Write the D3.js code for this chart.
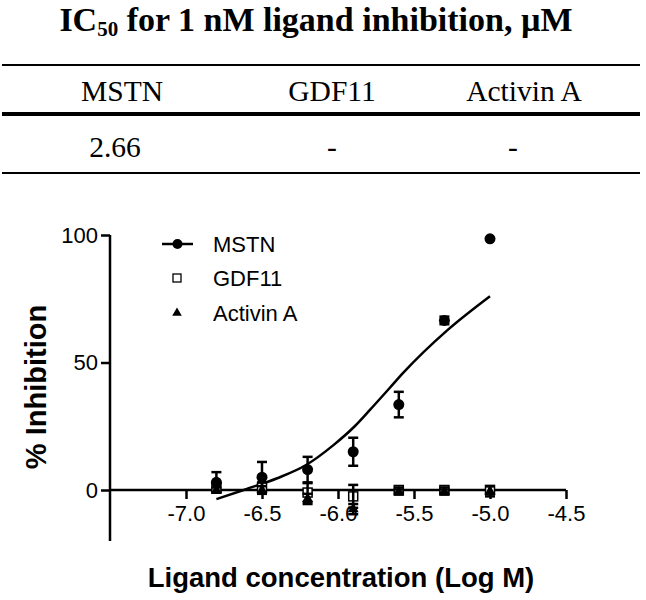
<!DOCTYPE html>
<html>
<head>
<meta charset="utf-8">
<script src="https://cdn.jsdelivr.net/npm/d3@7"></script>
<style>
  html, body { margin: 0; padding: 0; background: #fff; }
  svg { display: block; }
</style>
</head>
<body>
<svg id="chart" width="646" height="600"></svg>
<script>
// ---- data ----
const tableHeaders = ["MSTN", "GDF11", "Activin A"];
const tableValues = ["2.66", "-", "-"];

const seriesNames = ["MSTN", "GDF11", "Activin A"];
const logConc = [-6.8, -6.5, -6.2, -5.9, -5.6, -5.3, -5.0];
const mstnMean = [3, 5, 8, 15, 33.5, 66.5, 98.5];
const mstnErr = [4, 6, 5, 5.5, 5, 1.5, 0];
const gdf11Mean = [1, 1, -1, -2.5, 0, 0, 0];
const gdf11Err = [2, 2, 3.7, 4.5, 1, 1, 1.5];
const activinMean = [0, 0, -3.5, -7.5, -0.8, -0.8, -0.5];
const activinErr = [1, 1.5, 2, 2, 1, 1, 2];

// fitted MSTN curve
const fitX = [-6.8, -6.6, -6.4, -6.21, -6.03, -5.89, -5.79, -5.66, -5.57, -5.28, -5.0];
const fitY = [-3.6, 0.4, 4.6, 9.8, 17.6, 25, 31.4, 40, 46, 62.7, 76];

const xTicks = [-7.0, -6.5, -6.0, -5.5, -5.0, -4.5];
const yTicks = [0, 50, 100];

// ---- drawing ----
const svg = d3.select("#chart");
const serif = "'Liberation Serif', 'Times New Roman', serif";
const sans = "'Liberation Sans', Arial, Helvetica, sans-serif";

// Table
const title = svg.append("text")
  .attr("x", 316).attr("y", 31)
  .attr("text-anchor", "middle")
  .attr("font-family", serif).attr("font-weight", "bold").attr("font-size", 34);
title.append("tspan").text("IC");
title.append("tspan").attr("font-size", 21).attr("dy", 5).text("50");
title.append("tspan").attr("dy", -5).text(" for 1 nM ligand inhibition, µM");

const colPos = { "MSTN": 122, "GDF11": 332, "Activin A": 524 };

svg.append("line").attr("x1", 2).attr("x2", 640).attr("y1", 65).attr("y2", 65)
  .attr("stroke", "#000").attr("stroke-width", 2);
svg.append("line").attr("x1", 2).attr("x2", 640).attr("y1", 114).attr("y2", 114)
  .attr("stroke", "#000").attr("stroke-width", 4);
svg.append("line").attr("x1", 2).attr("x2", 640).attr("y1", 173).attr("y2", 173)
  .attr("stroke", "#000").attr("stroke-width", 2);

svg.selectAll("text.hdr").data(tableHeaders).enter().append("text")
  .attr("class", "hdr")
  .attr("x", d => colPos[d]).attr("y", 101)
  .attr("text-anchor", "middle")
  .attr("font-family", serif).attr("font-size", 29.5)
  .text(d => d);
svg.selectAll("text.val").data(tableValues).enter().append("text")
  .attr("class", "val")
  .attr("x", (d, i) => colPos[tableHeaders[i]] - (i === 0 ? 7 : 0) - (i === 2 ? 11 : 0)).attr("y", 157)
  .attr("text-anchor", "middle")
  .attr("font-family", serif).attr("font-size", 29.5)
  .text(d => d);

// Chart
const x = d3.scaleLinear().domain([-7.5, -4.5]).range([110, 566]);
const y = d3.scaleLinear().domain([-20, 100]).range([541, 235]);
const sw = 2.5;

// y axis
const yAxis = d3.axisLeft(y).tickValues(yTicks).tickSize(9).tickPadding(3).tickFormat(d3.format("d"));
const gy = svg.append("g").attr("transform", `translate(${x(-7.5)},0)`).call(yAxis);
gy.select(".domain").attr("d", `M0,${y(100)}V${y(-20)}`).attr("stroke-width", sw);
gy.selectAll(".tick line").attr("stroke-width", sw);
gy.selectAll(".tick text").attr("font-family", sans).attr("font-size", 22).attr("fill", "#000");

// x axis at y=0
const xAxis = d3.axisBottom(x).tickValues(xTicks).tickSize(9).tickPadding(6).tickFormat(d3.format(".1f"));
const gx = svg.append("g").attr("transform", `translate(0,${y(0)})`).call(xAxis);
gx.select(".domain").attr("d", `M${x(-7.5)},0H${x(-4.5)}`).attr("stroke-width", sw);
gx.selectAll(".tick line").attr("stroke-width", sw);
gx.selectAll(".tick text").attr("font-family", sans).attr("font-size", 22).attr("fill", "#000")
  .text(d => d3.format(".1f")(d).replace("−", "-"));

// axis titles
svg.append("text").attr("x", 341).attr("y", 587).attr("text-anchor", "middle")
  .attr("font-family", sans).attr("font-weight", "bold").attr("font-size", 27.5)
  .text("Ligand concentration (Log M)");
svg.append("text").attr("transform", `translate(46,387) rotate(-90)`).attr("text-anchor", "middle")
  .attr("font-family", sans).attr("font-weight", "bold").attr("font-size", 29)
  .text("% Inhibition");

// fitted curve
const fitData = fitX.map((v, i) => [v, fitY[i]]);
svg.append("path").datum(fitData)
  .attr("d", d3.line().x(d => x(d[0])).y(d => y(d[1])).curve(d3.curveMonotoneX))
  .attr("fill", "none").attr("stroke", "#000").attr("stroke-width", sw);

// error bars
function errorBars(means, errs) {
  const g = svg.append("g").attr("stroke", "#000").attr("stroke-width", sw);
  logConc.forEach((c, i) => {
    if (!errs[i]) return;
    const cx = x(c), y1 = y(means[i] + errs[i]), y2 = y(means[i] - errs[i]);
    g.append("line").attr("x1", cx).attr("x2", cx).attr("y1", y1).attr("y2", y2);
    g.append("line").attr("x1", cx - 5).attr("x2", cx + 5).attr("y1", y1).attr("y2", y1);
    g.append("line").attr("x1", cx - 5).attr("x2", cx + 5).attr("y1", y2).attr("y2", y2);
  });
}

const tri = d3.symbol().type(d3.symbolTriangle).size(52);

// GDF11 open squares
svg.append("g").selectAll("rect").data(logConc).enter().append("rect")
  .attr("x", d => x(d) - 4.5).attr("width", 9).attr("height", 9)
  .attr("y", (d, i) => y(gdf11Mean[i]) - 4.5)
  .attr("fill", "#fff").attr("stroke", "#000").attr("stroke-width", 1.5);

// Activin A triangles
svg.append("g").selectAll("path").data(logConc).enter().append("path")
  .attr("d", tri)
  .attr("transform", (d, i) => `translate(${x(d)},${y(activinMean[i])})`)
  .attr("fill", "#000");

errorBars(activinMean, activinErr);
errorBars(gdf11Mean, gdf11Err);
errorBars(mstnMean, mstnErr);

// MSTN filled circles
svg.append("g").selectAll("circle").data(logConc).enter().append("circle")
  .attr("cx", d => x(d)).attr("cy", (d, i) => y(mstnMean[i])).attr("r", 5.5)
  .attr("fill", "#000");

// legend
const lg = svg.append("g");
const legY = [244, 278, 313];
lg.append("line").attr("x1", 162).attr("x2", 193).attr("y1", legY[0]).attr("y2", legY[0])
  .attr("stroke", "#000").attr("stroke-width", sw);
lg.append("circle").attr("cx", 177.5).attr("cy", legY[0]).attr("r", 5).attr("fill", "#000");
lg.append("rect").attr("x", 173).attr("y", legY[1] - 4).attr("width", 8).attr("height", 8)
  .attr("fill", "#fff").attr("stroke", "#000").attr("stroke-width", 1.3);
lg.append("path").attr("d", d3.symbol().type(d3.symbolTriangle).size(40))
  .attr("transform", `translate(177,${legY[2]})`).attr("fill", "#000");
lg.selectAll("text").data(seriesNames).enter().append("text")
  .attr("x", 213).attr("y", (d, i) => legY[i] + 8)
  .attr("font-family", sans).attr("font-size", 22)
  .text(d => d);
</script>
</body>
</html>
